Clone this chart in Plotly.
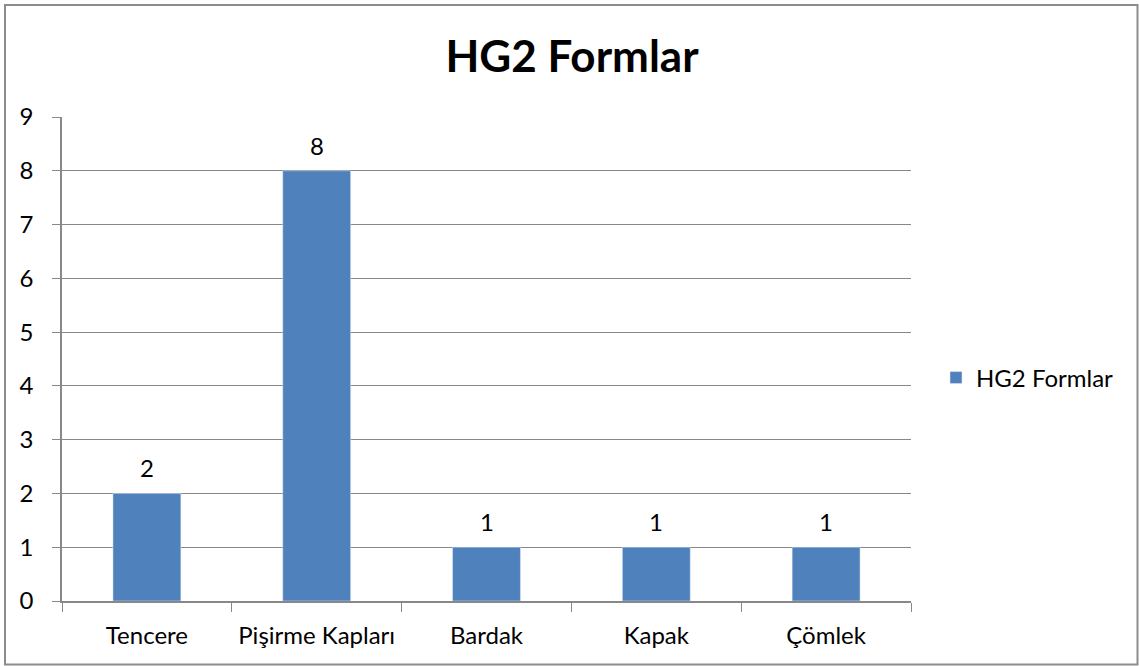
import plotly.graph_objects as go

categories = ["Tencere", "Pişirme Kapları", "Bardak", "Kapak", "Çömlek"]
values = [2, 8, 1, 1, 1]
series_name = "HG2 Formlar"
y_ticks = [0, 1, 2, 3, 4, 5, 6, 7, 8, 9]

W, H = 1139, 666
L, R, T, B = 62, 911, 117, 601  # plot area in reference pixels
ml, mr, mt, mb = L, W - R, T, H - B
pw, ph = R - L, B - T

def px(x):
    return (x - L) / pw

def py(y):
    return (B - y) / ph

font = "Lato"
grid = "#888888"

fig = go.Figure(go.Bar(
    x=categories, y=values, name=series_name,
    marker_color="#4F81BD", width=0.4,
    showlegend=True,
))

# data labels placed above each bar through the data scales
for c, v in zip(categories, values):
    fig.add_annotation(x=c, y=v, xref="x", yref="y", text=str(v),
                       showarrow=False, yanchor="bottom", yshift=9,
                       font=dict(size=24, family=font, color="#000000"))

fig.update_layout(
    width=W, height=H,
    margin=dict(l=ml, r=mr, t=mt, b=mb, autoexpand=False),
    plot_bgcolor="white", paper_bgcolor="white",
    font=dict(family=font, size=24, color="#000000"),
    title=dict(text="<b>HG2 Formlar</b>", x=572 / W, xref="container", xanchor="center",
               y=1 - 57 / H, yanchor="middle", yref="container",
               font=dict(size=44, family=font, color="#000000")),
    legend=dict(x=px(936), y=py(378), xanchor="left", yanchor="middle",
                font=dict(size=24, family=font), itemwidth=30),
    xaxis=dict(showline=True, linecolor=grid, linewidth=1.5, ticks="outside",
               tickson="boundaries", ticklen=9, tickcolor=grid, showgrid=False,
               tickfont=dict(size=24), tickangle=0, automargin=False,
               ticklabelstandoff=12),
    yaxis=dict(range=[0, 9], tickvals=y_ticks, showline=True, linecolor=grid,
               linewidth=1.5, ticks="outside", ticklen=8, tickcolor=grid,
               showgrid=True, gridcolor=grid, gridwidth=1.3, zeroline=False,
               tickfont=dict(size=24), automargin=False, ticklabelstandoff=14),
    shapes=[dict(type="rect", xref="paper", yref="paper",
                 x0=px(5), x1=px(1137.5), y0=py(664.5), y1=py(5),
                 line=dict(color="#8c8c8c", width=2), layer="below")],
)

fig.write_html("out.html", config={"displayModeBar": False},
               post_script="document.body.style.margin='0';document.body.style.overflow='hidden';")
